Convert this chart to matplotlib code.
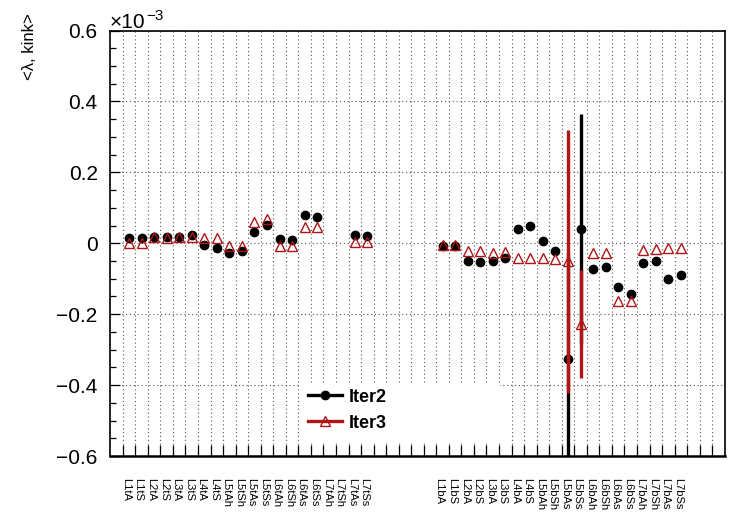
import numpy as np
import matplotlib
matplotlib.use("Agg")
from matplotlib import pyplot as plt
from matplotlib.lines import Line2D
from matplotlib.patches import Rectangle
from matplotlib.transforms import ScaledTranslation

plt.rcParams['font.family'] = ['Liberation Sans', 'DejaVu Sans']

nan = np.nan

# module labels, top half and bottom half
top_labels = ["L1tA", "L1tS", "L2tA", "L2tS", "L3tA", "L3tS", "L4tA", "L4tS",
              "L5tAh", "L5tSh", "L5tAs", "L5tSs", "L6tAh", "L6tSh", "L6tAs", "L6tSs",
              "L7tAh", "L7tSh", "L7tAs", "L7tSs"]
bot_labels = ["L1bA", "L1bS", "L2bA", "L2bS", "L3bA", "L3bS", "L4bA", "L4bS",
              "L5bAh", "L5bSh", "L5bAs", "L5bSs", "L6bAh", "L6bSh", "L6bAs", "L6bSs",
              "L7bAh", "L7bSh", "L7bAs", "L7bSs"]

# <lambda kink> in units of 1e-3
iter2_top = [0.016, 0.016, 0.017, 0.017, 0.018, 0.022, -0.004, -0.012,
             -0.028, -0.023, 0.033, 0.052, 0.012, 0.010, 0.079, 0.075,
             nan, nan, 0.024, 0.021]
iter2_bot = [-0.009, -0.009, -0.049, -0.052, -0.049, -0.042, 0.040, 0.050,
             0.005, -0.022, -0.326, 0.040, -0.074, -0.068, -0.123, -0.143,
             -0.055, -0.049, -0.102, -0.090]
iter3_top = [0.002, 0.002, 0.017, 0.016, 0.017, 0.018, 0.016, 0.015,
             -0.007, -0.007, 0.061, 0.068, -0.009, -0.009, 0.045, 0.045,
             nan, nan, 0.003, 0.003]
iter3_bot = [-0.006, -0.006, -0.022, -0.022, -0.028, -0.025, -0.043, -0.043,
             -0.042, -0.044, -0.051, -0.228, -0.028, -0.028, -0.162, -0.162,
             -0.019, -0.016, -0.014, -0.012]

# errors (only the L5bAs / L5bSs ones are bigger than the markers)
iter2_err_bot = [0]*10 + [0.30, 0.325] + [0]*8
iter3_err_bot = [0]*10 + [0.371, 0.152] + [0]*8

top_bins = np.arange(0, 20)
bot_bins = np.arange(25, 45)

labels = top_labels + bot_labels
bins = np.concatenate([top_bins, bot_bins])
iter2 = np.array(iter2_top + iter2_bot)
iter3 = np.array(iter3_top + iter3_bot)
iter2_err = np.array([0]*20 + iter2_err_bot)
iter3_err = np.array([0]*20 + iter3_err_bot)

red = '#b01414'

fig = plt.figure(figsize=(7.33, 5.12), dpi=100)
W, H = 733.0, 512.0
ax = fig.add_axes([110.2/W, 56/H, 614.6/W, 425.5/H])

ax.errorbar(bins, iter2, yerr=iter2_err, fmt='o', color='black', ms=6,
            elinewidth=2.4, capsize=0, zorder=3)
ax.errorbar(bins, iter3, yerr=iter3_err, fmt='^', color=red, mfc='none',
            mec=red, mew=1.0, ms=7.2, elinewidth=2.4, capsize=0, zorder=4)

ax.set_xlim(-1.5, 47.5)
ax.set_ylim(-0.6, 0.6)

# x axis: labels at bin centres, tick marks at bin edges
ax.set_xticks(bins)
ax.set_xticklabels(labels, rotation=-90, fontsize=8, va='top', ha='center')
ax.set_xticks(np.arange(-0.5, 47.5, 1.0), minor=True)
ax.tick_params(axis='x', which='major', length=0, pad=16)
ax.tick_params(axis='x', which='minor', direction='in', length=8, width=0.9)
for lab in ax.get_xticklabels():
    lab.set_transform(lab.get_transform() + ScaledTranslation(-3/100, 0, fig.dpi_scale_trans))

yt = np.round(np.arange(-0.6, 0.61, 0.2), 1)
ax.set_yticks(yt)
ax.set_yticklabels(['0' if v == 0 else ('%.1f' % v).replace('-', '\u2212') for v in yt],
                   fontsize=15)
ax.set_yticks(np.arange(-0.6, 0.601, 0.05), minor=True)
ax.tick_params(axis='y', which='major', direction='in', length=7, width=0.9, pad=9)
ax.tick_params(axis='y', which='minor', direction='in', length=4, width=0.9)

grid_style = dict(color='#555555', linestyle=(0, (1, 2.5)), linewidth=0.8)
ax.xaxis.grid(True, which='minor', **grid_style)
ax.yaxis.grid(True, which='major', **grid_style)
ax.set_axisbelow(True)

for side in ax.spines.values():
    side.set_linewidth(1.2)
ax.spines['bottom'].set_linewidth(1.8)

ax.yaxis.set_label_coords(-0.119, 1.04)
ax.set_ylabel('<\u03bb, kink>', fontsize=12, ha='right')

fig.text(110/W, 1 - 28/H, '\u00d710', fontsize=15, ha='left', va='baseline')
fig.text(146/W, 1 - 20/H, '\u22123', fontsize=11, ha='left', va='baseline')

# legend box
fig.patches.append(Rectangle((300/W, 1 - 443/H), 200/W, 60/H, transform=fig.transFigure,
                             facecolor='white', edgecolor='none', zorder=2))
handles = [Line2D([], [], color='black', lw=2.4, marker='o', ms=6),
           Line2D([], [], color=red, lw=2.4, marker='^', ms=7.2, mfc='none', mec=red)]
leg = fig.legend(handles, ['Iter2', 'Iter3'], loc='upper left',
                 bbox_to_anchor=(295/W, 1 - 376/H), bbox_transform=fig.transFigure,
                 frameon=False, prop={'size': 13, 'weight': 'bold'},
                 handlelength=1.9, handletextpad=0.4, labelspacing=0.5, borderpad=0.2)
leg.set_zorder(5)

fig.savefig('out.png', dpi=100)
